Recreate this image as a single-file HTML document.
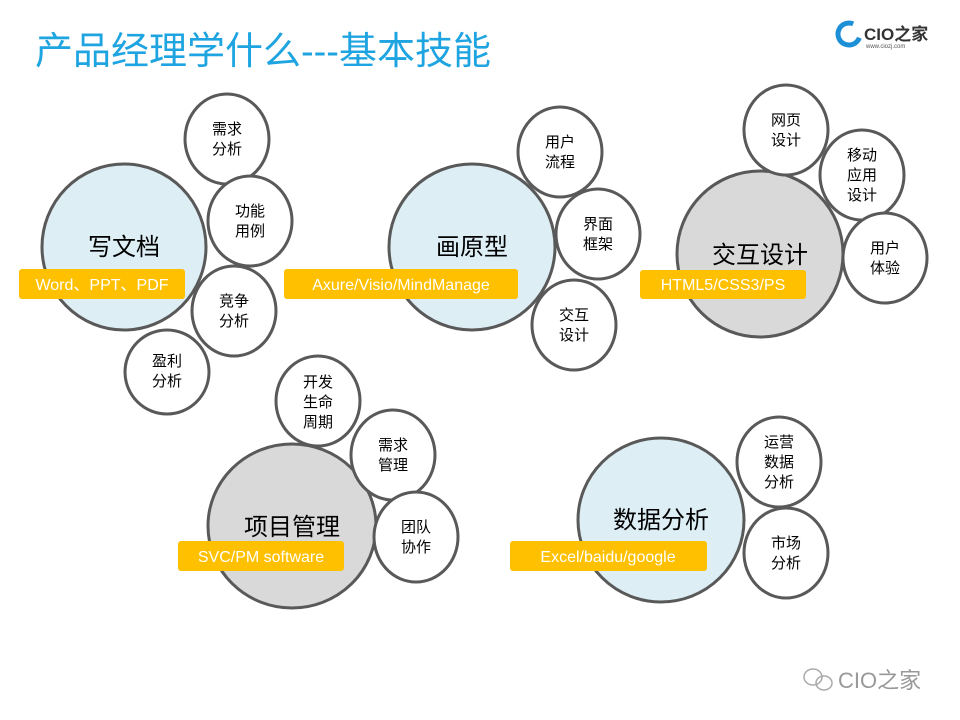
<!DOCTYPE html>
<html><head><meta charset="utf-8"><style>
body{margin:0;background:#fff;}
svg{display:block;font-family:"Liberation Sans","Noto Sans CJK SC",sans-serif;}
</style></head><body>
<svg width="960" height="720" viewBox="0 0 960 720">
<text x="35" y="64" font-size="38" fill="#1ea4e0">产品经理学什么---基本技能</text>
<g>
<circle cx="849" cy="34" r="11" fill="none" stroke="#1d8fd6" stroke-width="5" stroke-dasharray="52 20" transform="rotate(20 849 34)"/>
<text x="864" y="40" font-size="17" font-weight="bold" fill="#333">CIO之家</text>
<text x="866" y="48" font-size="6" fill="#555">www.ciozj.com</text>
</g>
<g stroke="#595959" stroke-width="3">
<ellipse cx="124" cy="247" rx="82" ry="83" fill="#ddeef5"/>
<ellipse cx="472" cy="247" rx="83" ry="83" fill="#ddeef5"/>
<ellipse cx="760" cy="254" rx="83" ry="83" fill="#d9d9d9"/>
<ellipse cx="292" cy="526" rx="84" ry="82" fill="#d9d9d9"/>
<ellipse cx="661" cy="520" rx="83" ry="82" fill="#ddeef5"/>
</g>
<g stroke="#595959" stroke-width="3" fill="#fff">
<ellipse cx="227" cy="139" rx="42" ry="45"/>
<ellipse cx="250" cy="221" rx="42" ry="45"/>
<ellipse cx="234" cy="311" rx="42" ry="45"/>
<ellipse cx="167" cy="372" rx="42" ry="42"/>
<ellipse cx="560" cy="152" rx="42" ry="45"/>
<ellipse cx="598" cy="234" rx="42" ry="45"/>
<ellipse cx="574" cy="325" rx="42" ry="45"/>
<ellipse cx="786" cy="130" rx="42" ry="45"/>
<ellipse cx="862" cy="175" rx="42" ry="45"/>
<ellipse cx="885" cy="258" rx="42" ry="45"/>
<ellipse cx="318" cy="401" rx="42" ry="45"/>
<ellipse cx="393" cy="455" rx="42" ry="45"/>
<ellipse cx="416" cy="537" rx="42" ry="45"/>
<ellipse cx="779" cy="462" rx="42" ry="45"/>
<ellipse cx="786" cy="553" rx="42" ry="45"/>
</g>
<g font-size="24" fill="#000" text-anchor="middle">
<text x="124" y="255">写文档</text>
<text x="472" y="255">画原型</text>
<text x="760" y="263">交互设计</text>
<text x="292" y="535">项目管理</text>
<text x="661" y="528">数据分析</text>
</g>
<g font-size="15" fill="#000" text-anchor="middle">
<text x="227" y="134">需求</text><text x="227" y="154">分析</text>
<text x="250" y="216">功能</text><text x="250" y="236">用例</text>
<text x="234" y="306">竞争</text><text x="234" y="326">分析</text>
<text x="167" y="366">盈利</text><text x="167" y="386">分析</text>
<text x="560" y="147">用户</text><text x="560" y="167">流程</text>
<text x="598" y="229">界面</text><text x="598" y="249">框架</text>
<text x="574" y="320">交互</text><text x="574" y="340">设计</text>
<text x="786" y="125">网页</text><text x="786" y="145">设计</text>
<text x="862" y="160">移动</text><text x="862" y="180">应用</text><text x="862" y="200">设计</text>
<text x="885" y="253">用户</text><text x="885" y="273">体验</text>
<text x="318" y="387">开发</text><text x="318" y="407">生命</text><text x="318" y="427">周期</text>
<text x="393" y="450">需求</text><text x="393" y="470">管理</text>
<text x="416" y="532">团队</text><text x="416" y="552">协作</text>
<text x="779" y="447">运营</text><text x="779" y="467">数据</text><text x="779" y="487">分析</text>
<text x="786" y="548">市场</text><text x="786" y="568">分析</text>
</g>
<g fill="#ffc000">
<rect x="19" y="269" width="166" height="30" rx="3"/>
<rect x="284" y="269" width="234" height="30" rx="3"/>
<rect x="640" y="270" width="166" height="29" rx="3"/>
<rect x="178" y="541" width="166" height="30" rx="3"/>
<rect x="510" y="541" width="197" height="30" rx="3"/>
</g>
<g font-size="16" fill="#fff" text-anchor="middle">
<text x="102" y="290">Word、PPT、PDF</text>
<text x="401" y="290">Axure/Visio/MindManage</text>
<text x="723" y="290">HTML5/CSS3/PS</text>
<text x="261" y="562">SVC/PM software</text>
<text x="608" y="562">Excel/baidu/google</text>
</g>
<g fill="none" stroke="#aaa" stroke-width="1.5">
<ellipse cx="813" cy="677" rx="9" ry="8"/>
<ellipse cx="824" cy="683" rx="8" ry="7"/>
</g>
<text x="838" y="688" font-size="22" fill="#999">CIO之家</text>
</svg>
</body></html>
